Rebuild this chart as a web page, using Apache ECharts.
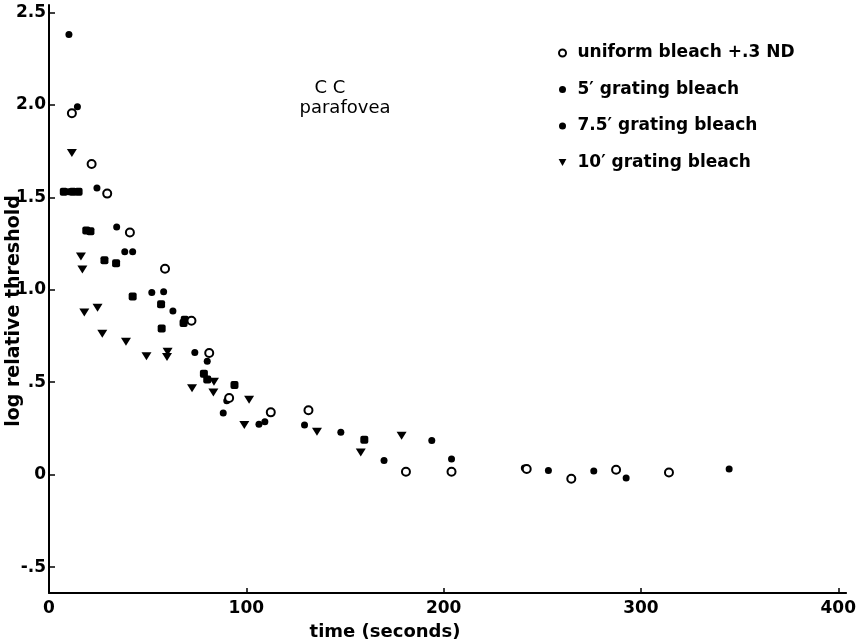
<!DOCTYPE html>
<html><head><meta charset="utf-8">
<script src="https://cdn.jsdelivr.net/npm/echarts@6/dist/echarts.min.js"></script>
<style>html,body{margin:0;padding:0;background:#fff}#c{width:859px;height:643px}</style>
</head><body><div id="c"></div>
<script>
const seriesNames = ['uniform bleach +.3 ND', '5\u2032 grating bleach', '7.5\u2032 grating bleach', '10\u2032 grating bleach'];
const uniformBleach = [[11.6,1.955],[21.6,1.68],[29.5,1.52],[41.0,1.31],[58.8,1.114],[72.2,0.832],[81.2,0.658],[91.3,0.415],[112.4,0.337],[131.5,0.348],[180.9,0.016],[204,0.016],[242.1,0.031],[264.7,-0.022],[287.4,0.027],[314.2,0.012]];
const grating5 = [[10.1,2.38],[14.4,1.99],[10,1.53],[24.3,1.55],[34.3,1.34],[38.4,1.205],[42.4,1.205],[52.1,0.985],[58.1,0.989],[62.8,0.885],[73.9,0.661],[80.2,0.614],[90.1,0.40],[88.3,0.333],[106.4,0.272],[109.4,0.286],[129.5,0.268],[147.9,0.229],[169.8,0.077],[194,0.185],[204,0.085],[240.9,0.036],[253.1,0.023],[276.1,0.02],[292.5,-0.018],[344.7,0.031]];
const grating75 = [[7.5,1.53],[12,1.53],[15,1.53],[18.9,1.32],[21.0,1.317],[28.1,1.16],[34.0,1.144],[42.4,0.964],[56.8,0.921],[57.1,0.79],[68.2,0.82],[68.8,0.838],[78.5,0.546],[80.2,0.514],[94.0,0.485],[159.8,0.189]];
const grating10 = [[11.6,1.74],[16.2,1.18],[16.9,1.11],[17.9,0.877],[24.6,0.903],[27.0,0.762],[39.0,0.719],[49.4,0.64],[60.1,0.665],[59.8,0.636],[72.5,0.467],[83.6,0.503],[83.3,0.445],[99.0,0.268],[101.4,0.405],[135.8,0.232],[158,0.12],[178.7,0.211]];
const xTickValues = [0,100,200,300,400];
const yTickValues = [-0.5,0,0.5,1,1.5,2,2.5];
const yTickLabels = ['-.5','0','.5','1.0','1.5','2.0','2.5'];
const xTitle = 'time (seconds)';
const yTitle = 'log relative threshold';
const noteLines = ['C C','parafovea'];

const FONT = 'DejaVu Sans';
const INK = '#000';
const tri = 'path://M0,0L10,0L5,9Z';

const chart = echarts.init(document.getElementById('c'), null, {renderer:'canvas'});
function yLab(v){ for (let i=0;i<yTickValues.length;i++){ if (Math.abs(yTickValues[i]-v)<1e-6) return yTickLabels[i]; } return ''; }
const base = {type:'scatter', emphasis:{disabled:true}, silent:true};
chart.setOption({
  animation:false,
  backgroundColor:'#fff',
  grid:{left:49, top:5, width:804, height:588, containLabel:false},
  xAxis:{type:'value', min:0, max:404,
    axisLine:{show:true, onZero:false, lineStyle:{color:INK, width:2}},
    axisTick:{show:true, inside:true, length:5, customValues:xTickValues, lineStyle:{color:INK, width:1.5}},
    axisLabel:{show:true, customValues:xTickValues, margin:7, color:INK, fontFamily:FONT, fontWeight:'bold', fontSize:17},
    splitLine:{show:false}},
  yAxis:{type:'value', min:-0.64, max:2.54,
    axisLine:{show:true, onZero:false, lineStyle:{color:INK, width:2}},
    axisTick:{show:true, inside:true, length:6, customValues:yTickValues, lineStyle:{color:INK, width:1.5}},
    axisLabel:{show:true, customValues:yTickValues, margin:3, color:INK, fontFamily:FONT, fontWeight:'bold', fontSize:17, formatter:yLab},
    splitLine:{show:false}},
  legend:{orient:'vertical', left:553, top:38, itemWidth:20, itemHeight:7, itemGap:16.5,
    textStyle:{color:INK, fontFamily:FONT, fontWeight:'bold', fontSize:17, lineHeight:20},
    data:[{name:seriesNames[0]},{name:seriesNames[1]},{name:seriesNames[2], icon:'circle'},{name:seriesNames[3]}],
    selectedMode:false},
  graphic:[
    {type:'text', x:385, y:632, style:{text:xTitle, fill:INK, font:'bold 18px "DejaVu Sans"', textAlign:'center', textVerticalAlign:'middle'}},
    {type:'text', rotation:Math.PI/2, x:14, y:311, style:{text:yTitle, fill:INK, font:'bold 19px "DejaVu Sans"', textAlign:'center', textVerticalAlign:'middle'}},
    {type:'text', x:330, y:88, style:{text:noteLines[0], fill:INK, font:'18px "DejaVu Sans"', textAlign:'center', textVerticalAlign:'middle'}},
    {type:'text', x:345, y:108, style:{text:noteLines[1], fill:INK, font:'18px "DejaVu Sans"', textAlign:'center', textVerticalAlign:'middle'}}
  ],
  series:[
    Object.assign({}, base, {name:seriesNames[0], data:uniformBleach, symbol:'circle', symbolSize:8, z:5, itemStyle:{color:'#fff', borderColor:INK, borderWidth:2, opacity:1}}),
    Object.assign({}, base, {name:seriesNames[1], data:grating5, symbol:'circle', symbolSize:7, itemStyle:{color:INK, opacity:1}}),
    Object.assign({}, base, {name:seriesNames[2], data:grating75, symbol:'roundRect', symbolSize:8, itemStyle:{color:INK, opacity:1}}),
    Object.assign({}, base, {name:seriesNames[3], data:grating10, symbol:tri, symbolSize:[10,8], itemStyle:{color:INK, opacity:1}})
  ]
});
</script></body></html>
